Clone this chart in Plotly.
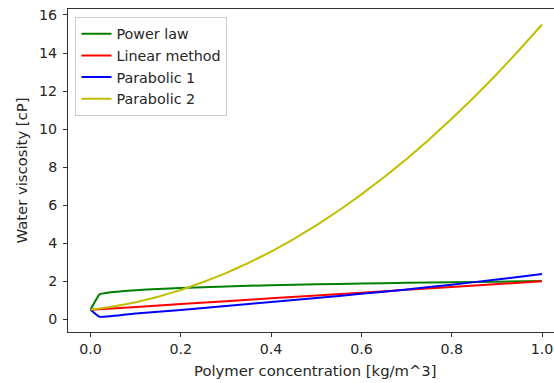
import plotly.graph_objects as go

# Data
x_power = [0.0, 0.02, 0.05, 0.1, 0.15, 0.2, 0.3, 0.4, 0.5, 0.6, 0.7, 0.8, 0.9, 1.0]
y_power = [0.5, 1.31, 1.43, 1.53, 1.59, 1.65, 1.73, 1.79, 1.84, 1.88, 1.92, 1.95, 1.98, 2.01]

x_linear = [0.0, 0.02, 0.2, 0.4, 0.6, 0.8, 1.0]
y_linear = [0.5, 0.53, 0.80, 1.10, 1.40, 1.70, 2.0]

x_para1 = [0.0, 0.02, 0.1, 0.2, 0.3, 0.4, 0.5, 0.6, 0.7, 0.8, 0.9, 1.0]
y_para1 = [0.5, 0.13, 0.30, 0.49, 0.70, 0.91, 1.12, 1.34, 1.57, 1.82, 2.09, 2.38]

x_para2 = [0.0, 0.05, 0.1, 0.15, 0.2, 0.25, 0.3, 0.35, 0.4, 0.45, 0.5,
           0.55, 0.6, 0.65, 0.7, 0.75, 0.8, 0.85, 0.9, 0.95, 1.0]
y_para2 = [0.5, 0.67, 0.90, 1.19, 1.54, 1.96, 2.43, 2.97, 3.56, 4.22, 4.94,
           5.72, 6.57, 7.47, 8.43, 9.46, 10.55, 11.69, 12.90, 14.17, 15.5]

x_ticks = [0.0, 0.2, 0.4, 0.6, 0.8, 1.0]
x_tick_labels = ["0.0", "0.2", "0.4", "0.6", "0.8", "1.0"]
y_ticks = [0, 2, 4, 6, 8, 10, 12, 14, 16]

series = [
    ("Power law", x_power, y_power, "#008000"),
    ("Linear method", x_linear, y_linear, "#ff0000"),
    ("Parabolic 1", x_para1, y_para1, "#0000ff"),
    ("Parabolic 2", x_para2, y_para2, "#bfbf00"),
]

FONT = "DejaVu Sans"
FS = 14.2
TXT = "#262626"

fig = go.Figure()
for name, xs, ys, col in series:
    fig.add_trace(go.Scatter(x=xs, y=ys, mode="lines", name=name,
                             line=dict(color=col, width=2, shape="spline", smoothing=0.3)))

fig.update_layout(
    width=554, height=383,
    margin=dict(l=67.5, r=0, t=9, b=51),
    paper_bgcolor="white", plot_bgcolor="white",
    font=dict(family=FONT, size=FS, color=TXT),
    showlegend=True,
    legend=dict(x=0.0154, y=0.975, xanchor="left", yanchor="top",
                bgcolor="rgba(255,255,255,0.8)", bordercolor="#cccccc", borderwidth=1,
                font=dict(family=FONT, size=14.3, color=TXT),
                itemwidth=30, tracegroupgap=0),
)
fig.update_xaxes(range=[-0.0498, 1.0265], tickvals=x_ticks, ticktext=x_tick_labels,
                 showgrid=False, zeroline=False, showline=True, linecolor="#333333",
                 linewidth=1, mirror=True, ticks="outside", ticklen=4, tickcolor="#333333",
                 tickfont=dict(family=FONT, size=FS, color=TXT))
fig.update_yaxes(range=[-0.668, 16.315], tickvals=y_ticks,
                 showgrid=False, zeroline=False, showline=True, linecolor="#333333",
                 linewidth=1, ticks="outside", ticklen=4, tickcolor="#333333",
                 ticklabelstandoff=3,
                 tickfont=dict(family=FONT, size=FS, color=TXT),
                 title=dict(text="Water viscosity [cP]", font=dict(family=FONT, size=14.8, color=TXT),
                            standoff=7))

fig.add_annotation(text="Polymer concentration [kg/m^3]", xref="paper", yref="paper",
                   x=(315.5 - 67.5) / 486.5, y=-(370 - 332) / 323.0,
                   xanchor="center", yanchor="middle", showarrow=False,
                   font=dict(family=FONT, size=14.8, color=TXT))

fig.write_html("out.html")
